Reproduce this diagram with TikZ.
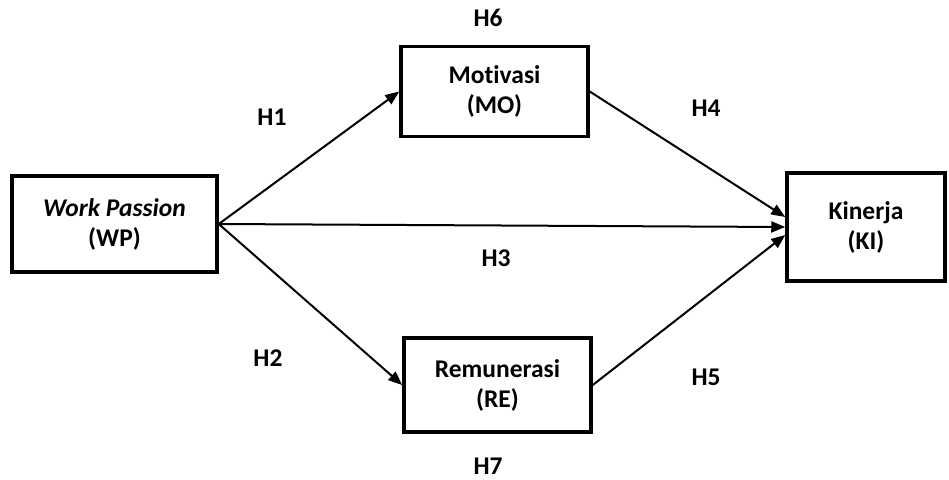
\documentclass[tikz,border=0pt]{standalone}
\usepackage{fontspec}
\setmainfont[Ligatures=NoCommon]{Carlito}
\usetikzlibrary{arrows.meta}
\begin{document}
\begin{tikzpicture}[x=1pt,y=-1pt,
  box/.style={draw,line width=3.5pt,minimum width=#1,align=center,inner sep=0pt,font=\bfseries\fontsize{25.5}{30}\selectfont},
  lab/.style={inner sep=0pt,font=\bfseries\fontsize{25.5}{30}\selectfont},
  arr/.style={line width=2pt,-{Triangle[length=14pt,width=11pt]}}]
\useasboundingbox (0,0) rectangle (949,479);
\node[box=205pt,minimum height=96pt] (wp) at (114.5,224) {\textit{Work Passion}\\(WP)};
\node[box=187pt,minimum height=90pt] (mo) at (494.5,91.5) {Motivasi\\(MO)};
\node[box=187pt,minimum height=94pt] (re) at (497.5,385) {Remunerasi\\(RE)};
\node[box=158pt,minimum height=108pt] (ki) at (866,227) {Kinerja\\(KI)};
\coordinate (wpr) at (wp.east);
\draw[arr] (wpr) -- (mo.west);
\draw[arr] (wpr) -- (re.west);
\draw[arr] (wpr) -- (ki.west);
\draw[arr] (mo.east) -- ([yshift=10pt]ki.west);
\draw[arr] (re.east) -- ([yshift=-8pt]ki.west);
\node[lab] (h6) at (488,18) {H6};
\node[lab] (h1) at (272,117) {H1};
\node[lab] (h4) at (706,108) {H4};
\node[lab] (h3) at (496,258) {H3};
\node[lab] (h2) at (268,358) {H2};
\node[lab] (h5) at (706,377) {H5};
\node[lab] (h7) at (488,466) {H7};
\end{tikzpicture}
\end{document}
